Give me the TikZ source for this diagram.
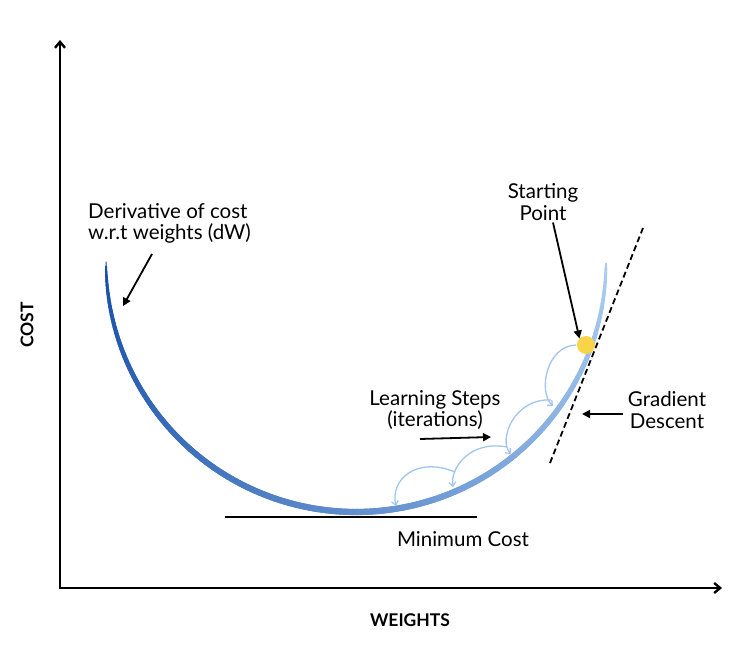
\documentclass[tikz,border=0pt]{standalone}
\usepackage{fontspec}
\setmainfont{Lato}
\usetikzlibrary{arrows.meta,calc}
\definecolor{cdark}{RGB}{22,78,168}
\definecolor{clight}{RGB}{172,206,242}
\definecolor{cstep}{RGB}{160,198,238}
\definecolor{cdot}{RGB}{249,211,72}
\tikzset{
  axisline/.style={line width=2.6pt,-{Straight Barb[length=6pt,width=10pt,line width=2.4pt]}},
  ptr/.style={line width=1.8pt,-{Triangle[length=8pt,width=8pt]}},
  stepline/.style={cstep,line width=1.3pt,-{Straight Barb[length=4pt,width=7pt,line width=1.2pt]}},
  lbl/.style={font=\fontsize{20.5}{21.5}\selectfont,align=center,inner sep=0pt},
  axlbl/.style={font=\fontsize{17.5}{19}\selectfont\bfseries,inner sep=0pt}
}
\begin{document}
\begin{tikzpicture}[x=1pt,y=-1pt]
\useasboundingbox[fill=white] (0,0) rectangle (745,652);
% axes
\coordinate (O) at (60,588);
\coordinate (Ytop) at (60,40);
\coordinate (Xend) at (722,588);
\draw[axisline] ([yshift=-1.3pt]O) -- (Ytop);
\draw[axisline] ([xshift=-1.3pt]O) -- (Xend);
\node[axlbl,rotate=90] (cost) at (27,325) {COST};
\node[axlbl] (weights) at (410,620) {WEIGHTS};
% cost curve
\foreach \a in {180,179,...,2}{
  \pgfmathsetmacro{\t}{(180-\a)/180}
  \pgfmathsetmacro{\p}{100*\t}
  \pgfmathsetmacro{\w}{1+5.2*(sin(180*\t))^0.4}
  \pgfmathsetmacro{\b}{\a-1.6}
  \colorlet{cc}{clight!\p!cdark}
  \draw[cc,line width=\w pt,line cap=round]
    ({356+250*cos(\a)},{262+250*sin(\a)}) -- ({356+250*cos(\b)},{262+250*sin(\b)});
}
% minimum line
\coordinate (m1) at (225,517);
\coordinate (m2) at (477,517);
\draw[line width=2.4pt] (m1) -- (m2);
\node[lbl] (mincost) at (463,539) {Minimum Cost};
% tangent
\coordinate (t1) at (550,463);
\coordinate (t2) at (643,228);
\draw[line width=1.8pt,dash pattern=on 6pt off 3.5pt] (t1) -- (t2);
% learning steps
\coordinate (A1) at (576,345);
\coordinate (B1) at (553,406);
\coordinate (A2) at (551,400);
\coordinate (B2) at (511,454);
\coordinate (A3) at (507,447);
\coordinate (B3) at (453,487);
\coordinate (A4) at (455,472);
\coordinate (B4) at (396,506);
\draw[stepline] (A1) .. controls (546,346) and (538,392) .. (B1);
\draw[stepline] (A2) .. controls (514,398) and (498,440) .. (B2);
\draw[stepline] (A3) .. controls (470,440) and (450,468) .. (B3);
\draw[stepline] (A4) .. controls (416,456) and (390,480) .. (B4);
% starting point
\node[circle,fill=cdot,minimum size=18pt,inner sep=0pt] (dot) at (586,345) {};
% labels
\node[lbl,align=left,anchor=north west] (deriv) at (88,203) {Derivative of cost\\w.r.t weights (dW)};
\coordinate (dtip) at (123,306);
\draw[ptr] (152,254) -- (dtip);
\node[lbl] (start) at (543,202) {Starting\\Point};
\draw[ptr] ([xshift=10pt,yshift=-2pt]start.south) -- (dot.north west);
\node[lbl] (grad) at (667,410) {Gradient\\Descent};
\coordinate (gtip) at (582,414);
\draw[ptr] ([xshift=-5pt]grad.west |- gtip) -- (gtip);
\node[lbl] (learn) at (435,410) {Learning Steps\\(iterations)};
\coordinate (ltip) at (491,437);
\draw[ptr] (420,439) -- (ltip);
\end{tikzpicture}
\end{document}
